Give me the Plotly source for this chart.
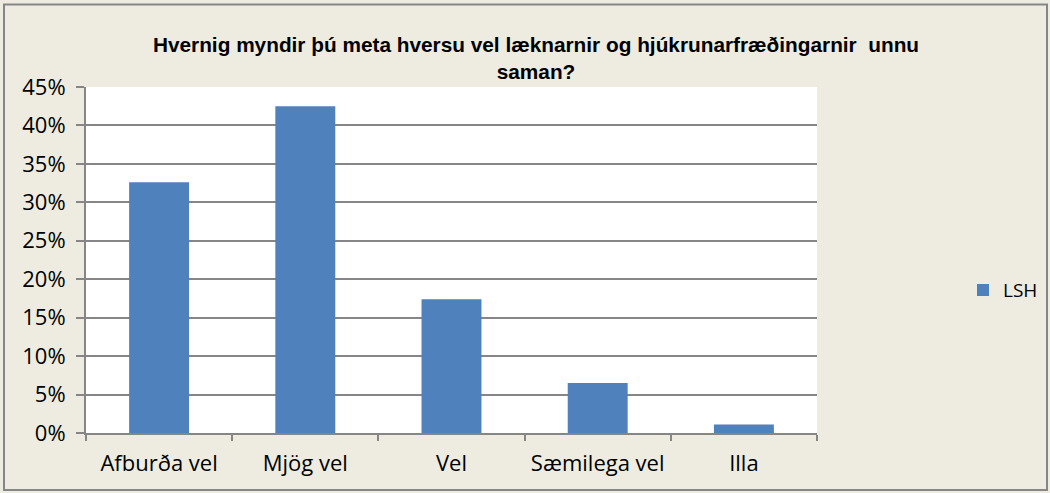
import plotly.graph_objects as go

categories = ["Afburða vel", "Mjög vel", "Vel", "Sæmilega vel", "Illa"]
lsh_values = [0.326, 0.425, 0.174, 0.065, 0.011]
series_name = "LSH"
y_ticks = [0, 0.05, 0.10, 0.15, 0.20, 0.25, 0.30, 0.35, 0.40, 0.45]
y_tick_labels = ["0%", "5%", "10%", "15%", "20%", "25%", "30%", "35%", "40%", "45%"]
title_text = "Hvernig myndir þú meta hversu vel læknarnir og hjúkrunarfræðingarnir  unnu<br>saman?"

W, H = 1050, 493
L, R, T, B = 86, 233, 86.5, 60
pw, ph = W - L - R, H - T - B

def px_x(px):
    return (px - L) / pw

def px_y(py):
    return (H - B - py) / ph

fig = go.Figure()
fig.add_trace(go.Bar(x=categories, y=lsh_values, name=series_name,
                     marker=dict(color="#4F81BD", line=dict(width=0)),
                     showlegend=True))

title_font = "Liberation Sans, Arial"
tick_font = "Open Sans, Noto Sans, Arial"
fig.update_layout(
    width=W, height=H,
    margin=dict(l=L, r=R, t=T, b=B, autoexpand=False),
    paper_bgcolor="#EEECE1",
    plot_bgcolor="#FFFFFF",
    bargap=0.59,
    font=dict(family=tick_font, size=20, color="#000000"),
    title=dict(text="<b>" + title_text + "</b>", xref="container", x=536 / W,
               xanchor="center", yref="container", y=1 - 52 / H, yanchor="middle",
               font=dict(family=title_font, size=20.8, color="#000000")),
    showlegend=True,
    legend=dict(x=px_x(963), y=px_y(290), xanchor="left", yanchor="middle",
                bgcolor="rgba(0,0,0,0)", font=dict(family=tick_font, size=19),
                itemwidth=30),
    xaxis=dict(showline=True, linecolor="#868686", linewidth=2,
               ticks="outside", tickson="boundaries", ticklen=6, tickcolor="#868686",
               tickwidth=2, showgrid=False, ticklabelstandoff=10,
               tickfont=dict(family=tick_font, size=22)),
    yaxis=dict(range=[0, 0.45], tickvals=y_ticks, ticktext=y_tick_labels,
               showline=True, linecolor="#868686", linewidth=2,
               ticks="outside", ticklen=8, tickcolor="#868686", tickwidth=2,
               showgrid=True, gridcolor="#868686", gridwidth=2,
               zeroline=False, ticklabelstandoff=6,
               tickfont=dict(family=tick_font, size=22)),
)

fig.add_shape(type="rect", xref="paper", yref="paper",
              x0=px_x(4), x1=px_x(1047), y0=px_y(490), y1=px_y(4),
              line=dict(color="#868686", width=2), fillcolor="rgba(0,0,0,0)",
              layer="below")

fig.write_html("out.html", config={"displayModeBar": False},
               post_script="document.body.style.margin='0';")
